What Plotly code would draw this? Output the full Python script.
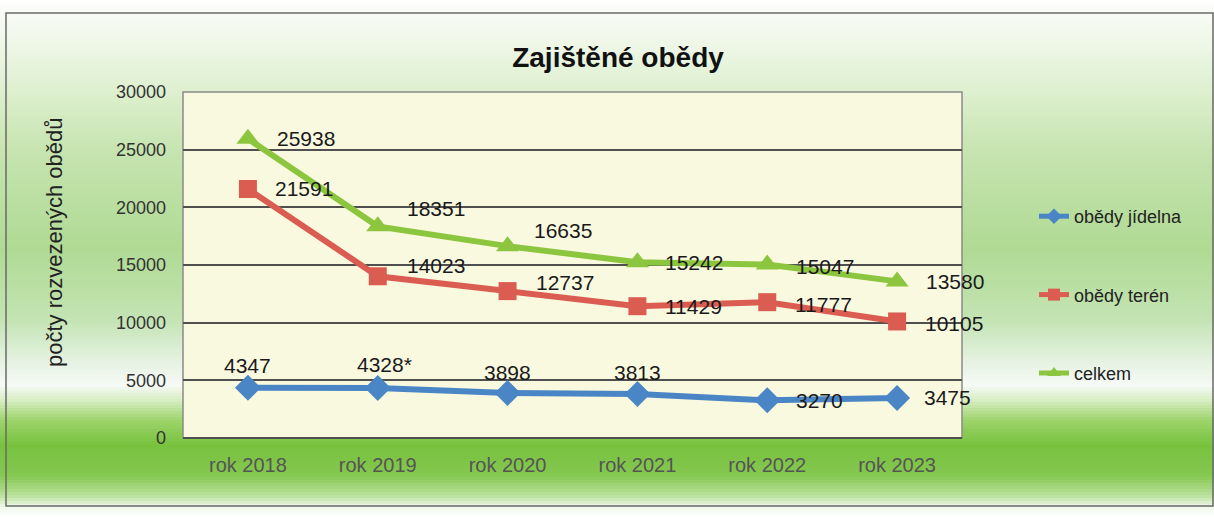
import plotly.graph_objects as go

# ---------------- data ----------------
categories = ["rok 2018", "rok 2019", "rok 2020", "rok 2021", "rok 2022", "rok 2023"]
obedy_jidelna = [4347, 4328, 3898, 3813, 3270, 3475]
obedy_teren = [21591, 14023, 12737, 11429, 11777, 10105]
celkem = [25938, 18351, 16635, 15242, 15047, 13580]
jidelna_labels = ["4347", "4328*", "3898", "3813", "3270", "3475"]
y_ticks = [0, 5000, 10000, 15000, 20000, 25000, 30000]

# label offsets in pixels (style only): (xanchor, xshift, yshift)
celkem_off = [("left", 27, 0), ("left", 27, 18), ("left", 24, 16),
              ("left", 26, 0), ("left", 27, -2), ("left", 27, 0)]
teren_off = [("left", 25, 0), ("left", 27, 11), ("left", 26, 9),
             ("left", 26, 0), ("left", 26, -2), ("left", 26, -2)]
jidelna_off = [("center", 0, 22), ("center", 7, 24), ("center", 0, 21),
               ("center", 0, 22), ("left", 27, 0), ("left", 25, 0)]

# ---------------- layout geometry (pixels) ----------------
W, H = 1214, 517
L, R, T, B = 183, 252, 92, 79
PW, PH = W - L - R, H - T - B
FONT = "Arial, Liberation Sans, sans-serif"

def px_to_paper_x(px):
    return (px - L) / PW

def px_to_paper_y(py):
    return (H - B - py) / PH

# background gradient stops (pixel y, colour)
stops = [
    (0, (255, 255, 255)), (12, (248, 251, 245)), (40, (240, 247, 233)),
    (90, (222, 240, 208)), (150, (198, 228, 176)), (250, (176, 218, 148)),
    (320, (196, 228, 180)), (360, (228, 242, 224)), (385, (246, 250, 246)),
    (400, (216, 238, 196)), (420, (158, 212, 108)), (445, (120, 194, 62)),
    (475, (132, 199, 80)), (495, (184, 224, 152)), (507, (240, 248, 234)),
    (517, (255, 255, 255)),
]

def colour_at(py):
    for (y0, c0), (y1, c1) in zip(stops[:-1], stops[1:]):
        if y0 <= py <= y1:
            t = (py - y0) / (y1 - y0) if y1 > y0 else 0
            c = [round(a + (b - a) * t) for a, b in zip(c0, c1)]
            return "rgb(%d,%d,%d)" % tuple(c)
    return "white"

shapes = []
step = 3
for py in range(0, H, step):
    shapes.append(dict(
        type="rect", xref="paper", yref="paper", layer="below",
        x0=px_to_paper_x(0), x1=px_to_paper_x(W),
        y0=px_to_paper_y(py + step + 0.5), y1=px_to_paper_y(py),
        fillcolor=colour_at(py + step / 2), line=dict(width=0),
    ))
# outer frame
shapes.append(dict(
    type="rect", xref="paper", yref="paper", layer="below",
    x0=px_to_paper_x(6), x1=px_to_paper_x(1213),
    y0=px_to_paper_y(506), y1=px_to_paper_y(13),
    fillcolor="rgba(0,0,0,0)", line=dict(color="#6a6a6a", width=1.5),
))
# plot area background
shapes.append(dict(
    type="rect", xref="paper", yref="paper", layer="below",
    x0=0, x1=1, y0=0, y1=1,
    fillcolor="#F9F9DF", line=dict(color="#8a8a8a", width=1.5),
))

fig = go.Figure()

blue, red, green = "#4A86C5", "#DB5D52", "#8CC63F"
label_font = dict(size=21, color="#1a1a1a", family=FONT)

series = [
    ("obědy jídelna", obedy_jidelna, jidelna_labels, jidelna_off, blue, "diamond", 20),
    ("obědy terén", obedy_teren, [str(v) for v in obedy_teren], teren_off, red, "square", 18),
    ("celkem", celkem, [str(v) for v in celkem], celkem_off, green, "triangle-up", 20),
]

annotations = []
for i, (name, vals, labels, offs, col, sym, msize) in enumerate(series):
    fig.add_trace(go.Scatter(
        x=categories, y=vals, name=name, mode="lines+markers",
        line=dict(color=col, width=6),
        marker=dict(symbol=sym, size=msize, color=col),
        cliponaxis=False, legendgroup=str(i),
    ))
    for cat, v, lab, (xa, xs, ys) in zip(categories, vals, labels, offs):
        annotations.append(dict(
            x=cat, y=v, xref="x", yref="y", text=lab, showarrow=False,
            xanchor=xa, yanchor="middle", xshift=xs, yshift=ys,
            font=label_font,
        ))

annotations.append(dict(
    text="počty rozvezených obědů", textangle=-90,
    xref="paper", yref="paper", x=px_to_paper_x(55), y=px_to_paper_y(242),
    xanchor="center", yanchor="middle", showarrow=False,
    font=dict(size=22, color="#222", family=FONT),
))

fig.update_layout(
    width=W, height=H,
    margin=dict(l=L, r=R, t=T, b=B),
    paper_bgcolor="white", plot_bgcolor="rgba(0,0,0,0)",
    font=dict(family=FONT, color="#222"),
    shapes=shapes,
    title=dict(text="<b>Zajištěné obědy</b>", x=px_to_paper_x(618), xref="paper",
               xanchor="center", y=1 - 57 / H, yanchor="middle",
               font=dict(size=28, color="#111", family=FONT)),
    showlegend=True,
    legend=dict(x=px_to_paper_x(1034), y=px_to_paper_y(198), xanchor="left",
                yanchor="top", bgcolor="rgba(0,0,0,0)", tracegroupgap=52,
                itemsizing="constant",
                font=dict(size=18, color="#222", family=FONT)),
    xaxis=dict(type="category", range=[-0.5, 5.5], showgrid=False,
               showline=False, zeroline=False, ticks="",
               tickfont=dict(size=20, color="#555", family=FONT),
               ticklabelstandoff=13),
    yaxis=dict(range=[0, 30000], tickvals=y_ticks, tickformat="d",
               showgrid=True, gridcolor="#505050", gridwidth=1.6,
               zeroline=True, zerolinecolor="#505050", zerolinewidth=1.6,
               showline=False, ticks="",
               tickfont=dict(size=18, color="#333", family=FONT),
               ticklabelstandoff=16),
    annotations=annotations,
)

fig.write_html("out.html", config={"displayModeBar": False},
               post_script="document.body.style.margin='0';")
